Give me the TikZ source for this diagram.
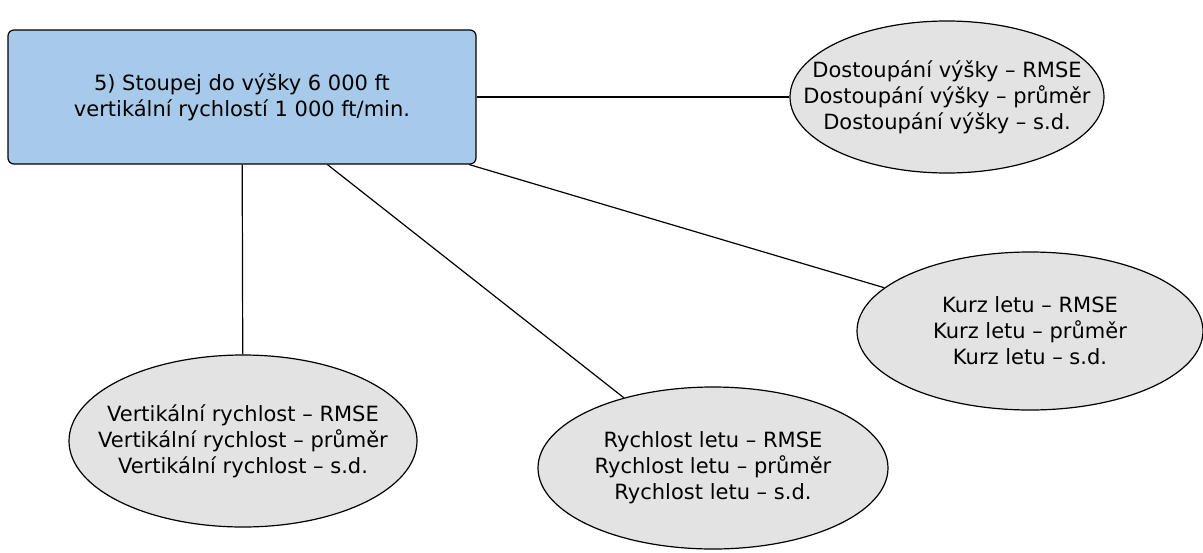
\documentclass[tikz,border=0pt]{standalone}
\usepackage{fontspec}
\setmainfont{DejaVu Sans}
\usetikzlibrary{shapes.geometric}
\definecolor{boxblue}{RGB}{168,202,234}
\definecolor{ovalgray}{RGB}{227,227,227}
\begin{document}
\begin{tikzpicture}[x=1pt,y=-1pt,
  task/.style={draw, rectangle, rounded corners=6pt, fill=boxblue, line width=1.2pt,
    minimum width=468pt, minimum height=134pt, align=center,
    font=\fontsize{21}{26}\selectfont},
  stat/.style={draw, ellipse, fill=ovalgray, line width=1.2pt, inner sep=-40pt,
    align=center, font=\fontsize{21}{26}\selectfont}]
\useasboundingbox (0,0) rectangle (1203,552);
\node[task] (task) at (242,97) {5) Stoupej do výšky 6 000 ft\\vertikální rychlostí 1 000 ft/min.};
\node[stat, minimum width=314pt, minimum height=152pt] (climb) at (947,97) {Dostoupání výšky – RMSE\\Dostoupání výšky – průměr\\Dostoupání výšky – s.d.};
\node[stat, minimum width=346pt, minimum height=158pt] (heading) at (1030,331) {Kurz letu – RMSE\\Kurz letu – průměr\\Kurz letu – s.d.};
\node[stat, minimum width=348pt, minimum height=172pt] (vspeed) at (243,441) {Vertikální rychlost – RMSE\\Vertikální rychlost – průměr\\Vertikální rychlost – s.d.};
\node[stat, minimum width=350pt, minimum height=162pt] (speed) at (713,468) {Rychlost letu – RMSE\\Rychlost letu – průměr\\Rychlost letu – s.d.};

\draw[line width=1.2pt] (task) -- (climb);
\draw[line width=1.2pt] (task) -- (heading);
\draw[line width=1.2pt] (task) -- (vspeed);
\draw[line width=1.2pt] (task) -- (speed);
\end{tikzpicture}
\end{document}
